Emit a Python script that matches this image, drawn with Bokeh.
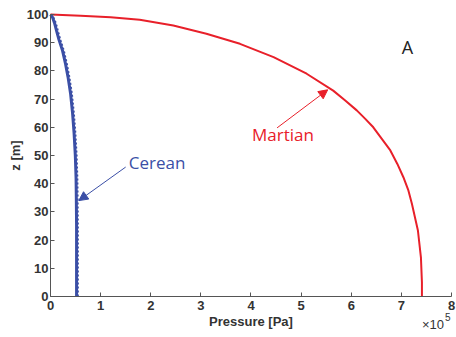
from bokeh.plotting import figure
from bokeh.models import Range1d, FixedTicker, Label, Arrow, NormalHead
from bokeh.embed import file_html
from bokeh.resources import INLINE

# Data (pressure in units of 1e5 Pa, height z in m)
mars_p = [0, 0.6, 1.2, 1.78, 2.45, 3.11, 3.78, 4.45, 5.11, 5.64, 5.88, 6.11, 6.28, 6.44,
          6.61, 6.78, 6.92, 7.04, 7.14, 7.21, 7.33, 7.39, 7.41, 7.41]
mars_z = [100, 99.6, 99.0, 98.1, 96.1, 93.2, 89.6, 84.9, 79.0, 73.0, 69.5, 66.0, 63.0, 60.0,
          55.9, 51.8, 47.0, 42.3, 37.6, 32.9, 23.4, 13.9, 5, 0]

cerean_z = [100, 99, 97, 94.3, 91, 87.2, 82.5, 77.8, 72, 65, 58, 50, 42, 35, 25, 12, 0]
cerean_p = [0, 0.04, 0.08, 0.12, 0.17, 0.24, 0.30, 0.35, 0.40, 0.44, 0.47, 0.495,
            0.51, 0.515, 0.52, 0.52, 0.52]
cerean2_p = [0, 0.06, 0.11, 0.15, 0.20, 0.27, 0.33, 0.38, 0.43, 0.47, 0.50, 0.525,
             0.54, 0.545, 0.55, 0.55, 0.55]

x_ticks = [0, 1, 2, 3, 4, 5, 6, 7, 8]
y_ticks = [0, 10, 20, 30, 40, 50, 60, 70, 80, 90, 100]
x_bounds = (0, 8)
y_bounds = (0, 100)

RED = "#e8202a"
BLUE = "#3b4fa6"

# The frame spans the whole canvas; axes are pinned at 0 so that the
# "x10^5" multiplier label below the axis is not clipped.
p = figure(width=456, height=337, output_backend="svg", toolbar_location=None,
           x_range=Range1d(-0.9975, 8.0998), y_range=Range1d(-14.539, 104.965),
           min_border_left=0, min_border_right=0, min_border_top=0, min_border_bottom=0)
p.outline_line_color = None
p.xgrid.visible = False
p.ygrid.visible = False
p.background_fill_color = "white"

for ax in (p.xaxis[0], p.yaxis[0]):
    ax.fixed_location = 0
    ax.axis_line_color = "#555555"
    ax.major_tick_line_color = "#555555"
    ax.major_tick_in = 4
    ax.major_tick_out = 0
    ax.minor_tick_line_color = None
    ax.major_label_text_font = "Liberation Sans"
    ax.major_label_text_font_style = "bold"
    ax.major_label_text_font_size = "13px"
    ax.major_label_text_color = "#333333"
    ax.axis_label_text_font = "Liberation Sans"
    ax.axis_label_text_font_style = "bold"
    ax.axis_label_text_font_size = "13px"
    ax.axis_label_text_color = "#333333"

p.xaxis.bounds = x_bounds
p.yaxis.bounds = y_bounds
p.xaxis.ticker = FixedTicker(ticks=x_ticks)
p.yaxis.ticker = FixedTicker(ticks=y_ticks)
p.xaxis.axis_label = "Pressure [Pa]"
p.yaxis.axis_label = "z [m]"
p.xaxis.major_label_standoff = 4
p.xaxis.axis_label_standoff = 1
p.yaxis.major_label_standoff = 2
p.yaxis.axis_label_standoff = 1

p.line(mars_p, mars_z, line_color=RED, line_width=2)
p.line(cerean_p, cerean_z, line_color=BLUE, line_width=3)
p.line(cerean2_p, cerean_z, line_color=BLUE, line_width=1.6, line_dash="2 2")

font = "Open Sans"
p.add_layout(Label(x=4.02, y=57.6, text="Martian", text_color=RED, text_font=font,
                   text_font_size="17px", text_baseline="alphabetic"))
p.add_layout(Label(x=1.56, y=47.5, text="Cerean", text_color=BLUE, text_font=font,
                   text_font_size="17px", text_baseline="alphabetic"))
p.add_layout(Label(x=7.01, y=88.3, text="A", text_color="#222222", text_font=font,
                   text_font_size="18px", text_baseline="alphabetic"))

p.add_layout(Arrow(x_start=4.52, y_start=59.8, x_end=5.53, y_end=73.3,
                   line_color=RED, line_width=1,
                   end=NormalHead(size=9, fill_color=RED, line_color=RED, line_width=1)))
p.add_layout(Arrow(x_start=1.5, y_start=45.9, x_end=0.565, y_end=34.0,
                   line_color=BLUE, line_width=1,
                   end=NormalHead(size=9, fill_color=BLUE, line_color=BLUE, line_width=1)))

p.add_layout(Label(x=7.41, y=-9.8, text="×10", text_color="#333333",
                   text_font="Liberation Sans", text_font_size="13px",
                   text_baseline="alphabetic"))
p.add_layout(Label(x=7.87, y=-7.4, text="5", text_color="#333333",
                   text_font="Liberation Sans", text_font_size="10px",
                   text_baseline="alphabetic"))

open("out.html", "w").write(file_html(p, INLINE))
